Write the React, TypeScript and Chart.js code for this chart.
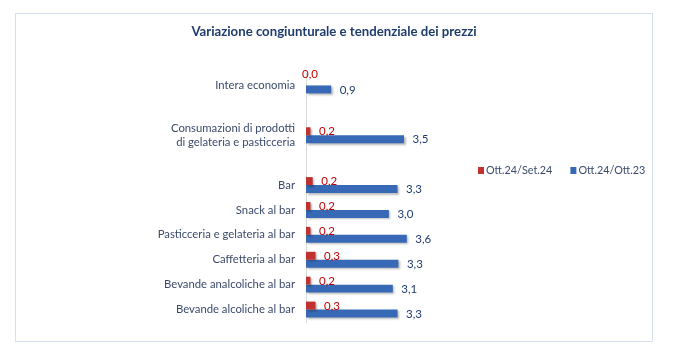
import React, { useEffect, useRef } from "react";
import { Chart, registerables } from "chart.js";

Chart.register(...registerables);

const titleText = "Variazione congiunturale e tendenziale dei prezzi";
const categories: (string | string[])[] = [
  "Intera economia",
  "",
  ["Consumazioni di prodotti", "di gelateria e pasticceria"],
  "",
  "Bar",
  "Snack al bar",
  "Pasticceria e gelateria al bar",
  "Caffetteria al bar",
  "Bevande analcoliche al bar",
  "Bevande alcoliche al bar",
];
const seriesNames = ["Ott.24/Set.24", "Ott.24/Ott.23"];
const congiunturale: (number | null)[] = [0.0, null, 0.16, null, 0.24, 0.16, 0.16, 0.34, 0.16, 0.34];
const tendenziale: (number | null)[] = [0.9, null, 3.5, null, 3.27, 2.96, 3.6, 3.3, 3.1, 3.27];

const FONT = "Lato, 'Open Sans', sans-serif";
const RED = "#C0312F";
const BLUE = "#3769B6";
const RED_TEXT = "#C00000";
const BLUE_TEXT = "#1F3C6E";
const AXIS_TEXT = "#3B4A6B";

const fmt = (v: number) => v.toFixed(1).replace(".", ",");

const decorPlugin = {
  id: "decor",
  beforeDraw(chart: any) {
    const ctx = chart.ctx;
    ctx.save();
    ctx.fillStyle = "#ffffff";
    ctx.fillRect(0, 0, chart.width, chart.height);
    ctx.strokeStyle = "#D6DFEE";
    ctx.lineWidth = 1;
    ctx.strokeRect(15.5, 13.5, 637, 328);
    ctx.restore();
  },
  beforeDatasetsDraw(chart: any) {
    const ctx = chart.ctx;
    ctx.save();
    ctx.shadowColor = "rgba(0,0,0,0.28)";
    ctx.shadowBlur = 2;
    ctx.shadowOffsetX = 1.5;
    ctx.shadowOffsetY = 1.5;
  },
  afterDatasetsDraw(chart: any) {
    const ctx = chart.ctx;
    ctx.restore();
    ctx.save();
    ctx.font = `11.5px ${FONT}`;
    ctx.textBaseline = "middle";
    chart.data.datasets.forEach((ds: any, di: number) => {
      const meta = chart.getDatasetMeta(di);
      meta.data.forEach((el: any, i: number) => {
        const v = ds.data[i];
        if (v === null || v === undefined) return;
        ctx.fillStyle = di === 0 ? RED_TEXT : BLUE_TEXT;
        if (v === 0) {
          ctx.textAlign = "center";
          ctx.fillText(fmt(v), el.x + 4, el.y - 7);
        } else {
          ctx.textAlign = "left";
          ctx.fillText(fmt(v), el.x + 8.5, el.y + 0.5);
        }
      });
    });
    ctx.restore();
  },
  afterDraw(chart: any) {
    const ctx = chart.ctx;
    ctx.save();
    // title
    ctx.font = `bold 13.2px ${FONT}`;
    ctx.fillStyle = "#1F3C6E";
    ctx.textAlign = "center";
    ctx.textBaseline = "middle";
    ctx.fillText(titleText, 334, 32);
    // legend
    ctx.font = `10.8px ${FONT}`;
    ctx.textAlign = "left";
    let x = 478;
    const y = 170.5;
    chart.data.datasets.forEach((ds: any) => {
      ctx.fillStyle = ds.backgroundColor;
      ctx.fillRect(x, y - 3.5, 6, 7);
      ctx.fillStyle = AXIS_TEXT;
      ctx.fillText(ds.label, x + 8, y);
      x += 8 + ctx.measureText(ds.label).width + 18;
    });
    ctx.restore();
  },
};

export default function App() {
  const ref = useRef<HTMLCanvasElement | null>(null);
  useEffect(() => {
    document.body.style.margin = "0";
    if (!ref.current) return;
    const chart = new Chart(ref.current, {
      type: "bar",
      data: {
        labels: categories as any,
        datasets: [
          { label: seriesNames[0], data: congiunturale, backgroundColor: RED },
          { label: seriesNames[1], data: tendenziale, backgroundColor: BLUE },
        ],
      },
      options: {
        indexAxis: "y",
        responsive: false,
        animation: false,
        devicePixelRatio: 1,
        layout: { padding: { left: 16, right: 202, top: 73, bottom: 32 } },
        datasets: { bar: { categoryPercentage: 0.64, barPercentage: 1 } },
        plugins: {
          legend: { display: false },
          title: { display: false },
          tooltip: { enabled: false },
        },
        scales: {
          x: { display: false, min: 0, max: 6 },
          y: {
            afterFit: (scale: any) => {
              scale.width = 290;
            },
            grid: { display: false, drawTicks: false },
            border: { display: true, color: "#D9D9D9" },
            ticks: {
              color: AXIS_TEXT,
              font: { family: FONT, size: 11.3, lineHeight: 1.25 },
              padding: 11,
              autoSkip: false,
            },
          },
        },
      },
      plugins: [decorPlugin],
    } as any);
    return () => chart.destroy();
  }, []);
  return <canvas ref={ref} width={676} height={354} style={{ display: "block" }} />;
}
